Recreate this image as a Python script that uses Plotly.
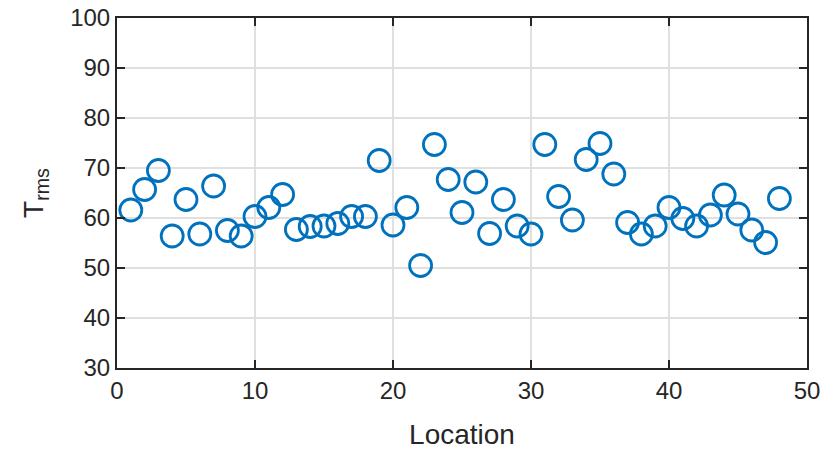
import plotly.graph_objects as go

# Measurement locations and their T_rms values
location = list(range(1, 49))
t_rms = [61.6, 65.7, 69.5, 56.4, 63.7, 56.8, 66.4, 57.5, 56.4, 60.3,
         62.1, 64.7, 57.7, 58.3, 58.4, 58.9, 60.3, 60.3, 71.5, 58.6,
         62.1, 50.5, 74.7, 67.7, 61.1, 67.2, 56.9, 63.7, 58.4, 56.8,
         74.7, 64.3, 59.6, 71.7, 74.9, 68.8, 59.1, 56.8, 58.4, 62.1,
         59.9, 58.4, 60.6, 64.6, 60.8, 57.6, 55.1, 63.9]

x_ticks = [0, 10, 20, 30, 40, 50]
y_ticks = [30, 40, 50, 60, 70, 80, 90, 100]

FONT = "Liberation Sans, Arial, sans-serif"
INK = "#262626"

fig = go.Figure(
    go.Scatter(
        x=location,
        y=t_rms,
        mode="markers",
        marker=dict(symbol="circle-open", size=22, color="#0072BD",
                    line=dict(width=2.8, color="#0072BD")),
        showlegend=False,
    )
)

axis_common = dict(
    showline=True, linecolor=INK, linewidth=2, mirror="ticks",
    ticks="inside", ticklen=8, tickwidth=2, tickcolor=INK,
    showgrid=True, gridcolor="#e0e0e0", gridwidth=2,
    zeroline=False, automargin=False,
    tickfont=dict(family=FONT, size=24, color=INK),
)

fig.update_xaxes(range=[0, 50], tickvals=x_ticks,
                 title=dict(text="Location", font=dict(family=FONT, size=28, color=INK),
                            standoff=22),
                 **axis_common)
fig.update_yaxes(range=[30, 100], tickvals=y_ticks,
                 title=dict(text="T<sub>rms</sub>", font=dict(family=FONT, size=28, color=INK),
                            standoff=18),
                 **axis_common)

fig.update_layout(
    width=836, height=458,
    margin=dict(l=117, r=29, t=18, b=90, autoexpand=False),
    paper_bgcolor="white", plot_bgcolor="white",
)

fig.write_html("out.html")
